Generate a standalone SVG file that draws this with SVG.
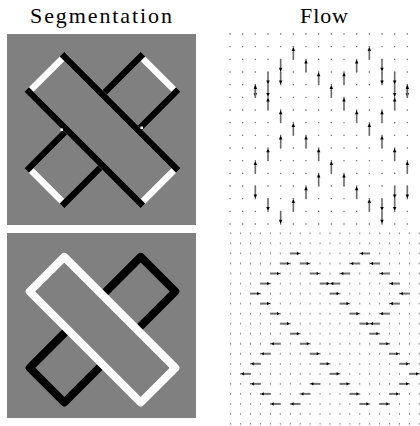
<svg xmlns="http://www.w3.org/2000/svg" xmlns:xlink="http://www.w3.org/1999/xlink" width="420" height="426" viewBox="0 0 420 426">
<style>
.title{font-family:"Liberation Serif","Times New Roman",serif;font-size:22px;fill:#000}
.bg{fill:#808080}
.wt{fill:none;stroke:#fff;stroke-width:6.5;stroke-linejoin:miter}
.bk{stroke:#000;stroke-width:6.5;stroke-linecap:square}
.rw{fill:#808080;stroke:#fff;stroke-width:8;stroke-linejoin:round}
.rb{fill:none;stroke:#000;stroke-width:8;stroke-linejoin:round}
.dt{stroke:#7a7a7a;stroke-width:1.3;stroke-dasharray:1.3 11.367}
.db{stroke:#8a8a8a;stroke-width:1.8;stroke-dasharray:1 8.93}
.sh{stroke:#6a6a6a;stroke-width:1.6}
.shh{stroke:#707070;stroke-width:2}
.hd{fill:#000}
</style>
<defs>
<g id="u"><line class="sh" x1="0" y1="0" x2="0" y2="-9.5"/><path class="hd" d="M0-12.67L-1.7-8.4H1.7Z"/></g>
<g id="d"><line class="sh" x1="0" y1="0" x2="0" y2="9.5"/><path class="hd" d="M0 12.67L-1.7 8.4H1.7Z"/></g>
<g id="r"><line class="shh" x1="0" y1="0" x2="7.5" y2="0"/><path class="hd" d="M9.93 0L6.6-1.6V1.6Z"/></g>
<g id="l"><line class="shh" x1="0" y1="0" x2="-7.5" y2="0"/><path class="hd" d="M-9.93 0L-6.6-1.6V1.6Z"/></g>
</defs>
<g id="titles">
<text class="title" x="30" y="23" textLength="142" lengthAdjust="spacing">Segmentation</text>
<text class="title" x="300" y="23" textLength="48" lengthAdjust="spacing">Flow</text>
</g>
<g id="seg-top">
<rect class="bg" x="7" y="34" width="189" height="191"/>
<polygon class="wt" points="140.68,56.46 176.04,91.82 64.32,203.54 28.96,168.18"/>
<line class="bk" x1="140.68" y1="56.46" x2="28.96" y2="168.18"/>
<line class="bk" x1="176.04" y1="91.82" x2="64.32" y2="203.54"/>
<polygon class="wt" style="fill:#808080" points="64.32,56.46 28.96,91.82 140.68,203.54 176.04,168.18"/>
<line class="bk" x1="64.32" y1="56.46" x2="176.04" y2="168.18"/>
<line class="bk" x1="28.96" y1="91.82" x2="140.68" y2="203.54"/>
<rect x="60.5" y="128.5" width="2.5" height="2.5" fill="#fff"/>
<rect x="140.5" y="126.5" width="2.5" height="2.5" fill="#fff"/>
</g>
<g id="seg-bottom">
<rect class="bg" x="7" y="233" width="189" height="185"/>
<polygon class="rb" points="140.69,256.87 175.33,291.51 64.31,402.53 29.67,367.89"/>
<polygon class="rw" points="64.31,256.87 29.67,291.51 140.69,402.53 175.33,367.89"/>
</g>
<g id="flow-top-grid">
<line class="dt" x1="229.35" x2="412" y1="34" y2="34"/>
<line class="dt" x1="229.35" x2="412" y1="46.67" y2="46.67"/>
<line class="dt" x1="229.35" x2="412" y1="59.33" y2="59.33"/>
<line class="dt" x1="229.35" x2="412" y1="72" y2="72"/>
<line class="dt" x1="229.35" x2="412" y1="84.67" y2="84.67"/>
<line class="dt" x1="229.35" x2="412" y1="97.33" y2="97.33"/>
<line class="dt" x1="229.35" x2="412" y1="110" y2="110"/>
<line class="dt" x1="229.35" x2="412" y1="122.67" y2="122.67"/>
<line class="dt" x1="229.35" x2="412" y1="135.33" y2="135.33"/>
<line class="dt" x1="229.35" x2="412" y1="148" y2="148"/>
<line class="dt" x1="229.35" x2="412" y1="160.67" y2="160.67"/>
<line class="dt" x1="229.35" x2="412" y1="173.33" y2="173.33"/>
<line class="dt" x1="229.35" x2="412" y1="186" y2="186"/>
<line class="dt" x1="229.35" x2="412" y1="198.67" y2="198.67"/>
<line class="dt" x1="229.35" x2="412" y1="211.33" y2="211.33"/>
<line class="dt" x1="229.35" x2="412" y1="224" y2="224"/>
</g>
<g id="flow-top-arrows">
<use href="#d" x="255.33" y="84.67"/><use href="#u" x="255.33" y="97.33"/><use href="#u" x="255.33" y="173.33"/><use href="#d" x="255.33" y="186"/>
<use href="#d" x="268" y="72"/><use href="#d" x="268" y="84.67"/><use href="#u" x="268" y="110"/><use href="#u" x="268" y="160.67"/><use href="#d" x="268" y="198.67"/>
<use href="#d" x="280.67" y="59.33"/><use href="#d" x="280.67" y="72"/><use href="#u" x="280.67" y="122.67"/><use href="#u" x="280.67" y="148"/><use href="#d" x="280.67" y="211.33"/>
<use href="#u" x="293.33" y="59.33"/><use href="#u" x="293.33" y="135.33"/><use href="#u" x="293.33" y="211.33"/>
<use href="#u" x="306" y="72"/><use href="#u" x="306" y="148"/><use href="#u" x="306" y="198.67"/>
<use href="#u" x="318.67" y="84.67"/><use href="#u" x="318.67" y="160.67"/><use href="#u" x="318.67" y="186"/>
<use href="#u" x="331.33" y="97.33"/><use href="#u" x="331.33" y="173.33"/>
<use href="#u" x="344" y="84.67"/><use href="#u" x="344" y="110"/><use href="#u" x="344" y="186"/>
<use href="#u" x="356.67" y="72"/><use href="#u" x="356.67" y="122.67"/><use href="#u" x="356.67" y="198.67"/>
<use href="#u" x="369.33" y="59.33"/><use href="#u" x="369.33" y="135.33"/><use href="#u" x="369.33" y="211.33"/>
<use href="#d" x="382" y="59.33"/><use href="#d" x="382" y="72"/><use href="#u" x="382" y="122.67"/><use href="#u" x="382" y="148"/><use href="#d" x="382" y="198.67"/><use href="#d" x="382" y="211.33"/>
<use href="#d" x="394.67" y="72"/><use href="#d" x="394.67" y="84.67"/><use href="#u" x="394.67" y="110"/><use href="#u" x="394.67" y="160.67"/><use href="#d" x="394.67" y="186"/><use href="#d" x="394.67" y="198.67"/>
<use href="#d" x="407.33" y="84.67"/><use href="#u" x="407.33" y="97.33"/><use href="#u" x="407.33" y="173.33"/><use href="#d" x="407.33" y="186"/>
</g>
<g id="flow-bottom-grid">
<line class="db" x1="230.17" x2="420" y1="233.4" y2="233.4"/>
<line class="db" x1="230.17" x2="420" y1="243.43" y2="243.43"/>
<line class="db" x1="230.17" x2="420" y1="253.46" y2="253.46"/>
<line class="db" x1="230.17" x2="420" y1="263.49" y2="263.49"/>
<line class="db" x1="230.17" x2="420" y1="273.52" y2="273.52"/>
<line class="db" x1="230.17" x2="420" y1="283.55" y2="283.55"/>
<line class="db" x1="230.17" x2="420" y1="293.58" y2="293.58"/>
<line class="db" x1="230.17" x2="420" y1="303.61" y2="303.61"/>
<line class="db" x1="230.17" x2="420" y1="313.64" y2="313.64"/>
<line class="db" x1="230.17" x2="420" y1="323.67" y2="323.67"/>
<line class="db" x1="230.17" x2="420" y1="333.7" y2="333.7"/>
<line class="db" x1="230.17" x2="420" y1="343.73" y2="343.73"/>
<line class="db" x1="230.17" x2="420" y1="353.76" y2="353.76"/>
<line class="db" x1="230.17" x2="420" y1="363.79" y2="363.79"/>
<line class="db" x1="230.17" x2="420" y1="373.82" y2="373.82"/>
<line class="db" x1="230.17" x2="420" y1="383.85" y2="383.85"/>
<line class="db" x1="230.17" x2="420" y1="393.88" y2="393.88"/>
<line class="db" x1="230.17" x2="420" y1="403.91" y2="403.91"/>
<line class="db" x1="230.17" x2="420" y1="413.94" y2="413.94"/>
<line class="db" x1="230.17" x2="420" y1="423.97" y2="423.97"/>
</g>
<g id="flow-bottom-arrows">
<use href="#r" x="290.25" y="253.46"/><use href="#l" x="369.69" y="253.46"/>
<use href="#r" x="280.32" y="263.49"/><use href="#r" x="300.18" y="263.49"/><use href="#l" x="359.76" y="263.49"/><use href="#l" x="379.62" y="263.49"/>
<use href="#r" x="270.39" y="273.52"/><use href="#r" x="310.11" y="273.52"/><use href="#l" x="349.83" y="273.52"/><use href="#l" x="389.55" y="273.52"/>
<use href="#r" x="260.46" y="283.55"/><use href="#r" x="320.04" y="283.55"/><use href="#l" x="339.9" y="283.55"/><use href="#l" x="399.48" y="283.55"/>
<use href="#r" x="250.53" y="293.58"/><use href="#r" x="329.97" y="293.58"/><use href="#l" x="409.41" y="293.58"/>
<use href="#r" x="260.46" y="303.61"/><use href="#r" x="339.9" y="303.61"/><use href="#l" x="399.48" y="303.61"/>
<use href="#r" x="270.39" y="313.64"/><use href="#r" x="349.83" y="313.64"/><use href="#l" x="389.55" y="313.64"/>
<use href="#r" x="280.32" y="323.67"/><use href="#r" x="359.76" y="323.67"/><use href="#l" x="379.62" y="323.67"/>
<use href="#r" x="290.25" y="333.7"/><use href="#r" x="369.69" y="333.7"/>
<use href="#l" x="280.32" y="343.73"/><use href="#r" x="300.18" y="343.73"/><use href="#r" x="379.62" y="343.73"/>
<use href="#l" x="270.39" y="353.76"/><use href="#r" x="310.11" y="353.76"/><use href="#r" x="389.55" y="353.76"/>
<use href="#l" x="260.46" y="363.79"/><use href="#r" x="320.04" y="363.79"/><use href="#r" x="399.48" y="363.79"/>
<use href="#l" x="250.53" y="373.82"/><use href="#r" x="329.97" y="373.82"/><use href="#r" x="409.41" y="373.82"/>
<use href="#l" x="260.46" y="383.85"/><use href="#l" x="320.04" y="383.85"/><use href="#r" x="339.9" y="383.85"/><use href="#r" x="399.48" y="383.85"/>
<use href="#l" x="270.39" y="393.88"/><use href="#l" x="310.11" y="393.88"/><use href="#r" x="349.83" y="393.88"/><use href="#r" x="389.55" y="393.88"/>
<use href="#l" x="280.32" y="403.91"/><use href="#l" x="300.18" y="403.91"/><use href="#r" x="359.76" y="403.91"/><use href="#r" x="379.62" y="403.91"/>
</g>
</svg>
